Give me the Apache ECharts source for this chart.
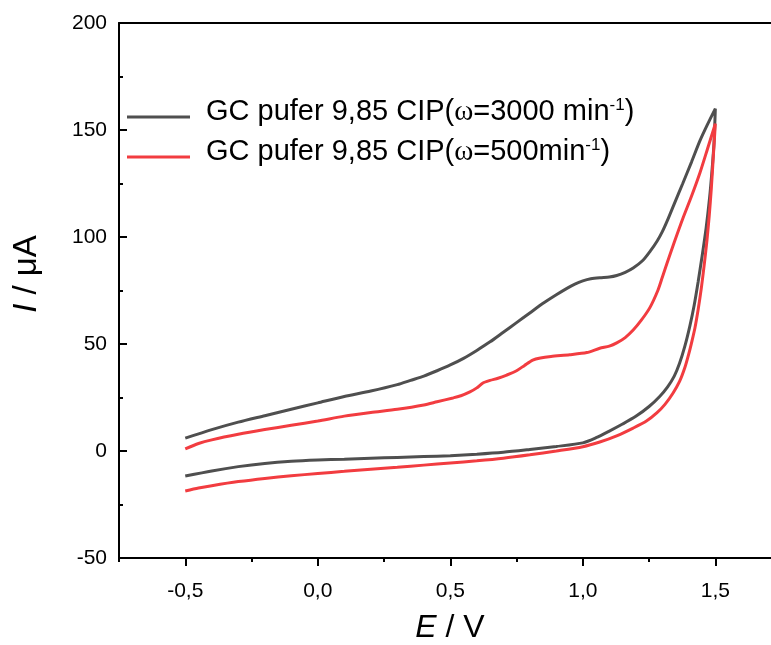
<!DOCTYPE html>
<html>
<head>
<meta charset="utf-8">
<script src="https://cdn.jsdelivr.net/npm/echarts@6/dist/echarts.min.js"></script>
<style>
html,body{margin:0;padding:0;background:#fff;}
#chart{width:771px;height:645px;}
</style>
</head>
<body>
<div id="chart"></div>
<script>
// ---- Data (E in V, I in µA) ----
const seriesNames = ['GC pufer 9,85 CIP(ω=3000 min-1)', 'GC pufer 9,85 CIP(ω=500min-1)'];

// 3000 min-1: forward (lower) branch then reverse (upper) branch
const e3000 = [-0.5,-0.4,-0.3,-0.2,-0.1,0,0.1,0.2,0.3,0.4,0.5,0.6,0.7,0.8,0.9,1.0,1.05,1.1,1.15,1.2,1.25,1.29,1.32,1.345,1.365,1.385,1.404,1.42,1.435,1.45,1.465,1.478,1.488,1.495,1.5,
  1.47,1.442,1.41,1.377,1.345,1.32,1.3,1.28,1.255,1.226,1.19,1.16,1.128,1.1,1.064,1.03,1.0,0.97,0.94,0.9,0.85,0.8,0.75,0.7,0.65,0.6,0.55,0.5,0.45,0.4,0.35,0.3,0.2,0.1,0,-0.1,-0.2,-0.3,-0.4,-0.5];
const i3000 = [-11.7,-9.3,-7.3,-5.8,-4.8,-4.2,-3.8,-3.4,-3.0,-2.6,-2.2,-1.5,-0.6,0.7,2.1,3.8,6.2,9.3,12.6,16.2,20.8,25.5,30,35,41,49,58.5,68,79,91,104,118,132,144,160,
  152.5,145,135,125,115.5,108,102.5,98,93.5,89,85.5,83.5,82,81.3,81,80.5,79.5,78,76,73,69,64.5,60,55.5,51,47,43.3,40.2,37.5,35,33,31,28,25.5,22.5,19.5,16.5,13.5,10,6];

// 500 min-1
const e500 = [-0.5,-0.45,-0.4,-0.3,-0.2,-0.1,0,0.1,0.2,0.3,0.4,0.5,0.6,0.7,0.8,0.9,1.0,1.064,1.13,1.19,1.24,1.279,1.31,1.34,1.365,1.385,1.4,1.412,1.423,1.435,1.447,1.458,1.468,1.477,1.485,1.492,1.5,
  1.47,1.442,1.41,1.377,1.345,1.317,1.3,1.283,1.253,1.22,1.19,1.16,1.128,1.1,1.064,1.015,0.95,0.88,0.84,0.811,0.78,0.75,0.713,0.68,0.65,0.623,0.6,0.574,0.54,0.51,0.45,0.4,0.3,0.2,0.1,0,-0.1,-0.2,-0.3,-0.4,-0.45,-0.5];
const i500 = [-18.7,-17.3,-16.2,-14.3,-12.8,-11.6,-10.5,-9.5,-8.5,-7.6,-6.6,-5.6,-4.6,-3.4,-1.8,0,2,4.2,7.2,10.7,14,17.8,21.8,27,32.5,39,45.5,51.5,57.5,66,76,87,98,110,123,137,153,
  141,130,119,108.5,97.5,87.5,81.2,75,67,61,56.5,53,50.5,49,48,46,45,44.2,43.5,42.5,40,37.5,35.5,34,33,31.8,29.5,27.6,25.8,24.8,23,21.5,19.5,18,16.3,14,12,10,7.8,5.2,3.5,1];

// Axis ticks
const xMajorTicks = [-0.5, 0, 0.5, 1.0, 1.5];
const xMinorTicks = [-0.75, -0.25, 0.25, 0.75, 1.25];
const yMinorTicks = [-25, 25, 75, 125, 175];

const pairs = (xs, ys) => xs.map((x, k) => [x, ys[k]]);
const FONT = 'Liberation Sans, Arial, sans-serif';
const X_MIN = -0.75, X_MAX = 1.71;

const chart = echarts.init(document.getElementById('chart'), null, {renderer: 'canvas'});
const option = {
  animation: false,
  backgroundColor: '#fff',
  color: ['#4f4f4f', '#f23c40'],
  grid: {left: 119, right: 0, top: 23, bottom: 87, show: false},
  xAxis: [{
    type: 'value', min: X_MIN, max: X_MAX,
    axisLine: {onZero: false, lineStyle: {color: '#000', width: 2}},
    axisTick: {customValues: xMajorTicks, length: 8, lineStyle: {color: '#000', width: 2}},
    axisLabel: {customValues: xMajorTicks, color: '#000', fontSize: 21, fontFamily: FONT, margin: 23,
      formatter: v => v.toFixed(1).replace('.', ',')},
    splitLine: {show: false}
  }, {
    type: 'value', min: X_MIN, max: X_MAX, position: 'bottom',
    axisLine: {show: false, onZero: false},
    axisTick: {customValues: xMinorTicks, length: 4, lineStyle: {color: '#000', width: 2}},
    axisLabel: {show: false},
    splitLine: {show: false}
  }, {
    type: 'value', min: X_MIN, max: X_MAX, position: 'top',
    axisLine: {show: true, onZero: false, lineStyle: {color: '#000', width: 2}},
    axisTick: {show: false},
    axisLabel: {show: false},
    splitLine: {show: false}
  }],
  yAxis: [{
    type: 'value', min: -50, max: 200, interval: 50,
    axisLine: {show: true, onZero: false, lineStyle: {color: '#000', width: 2}},
    axisTick: {show: true, inside: true, length: 8, lineStyle: {color: '#000', width: 2}},
    axisLabel: {color: '#000', fontSize: 21, fontFamily: FONT, margin: 12},
    splitLine: {show: false}
  }, {
    type: 'value', min: -50, max: 200, position: 'left',
    axisLine: {show: false, onZero: false},
    axisTick: {show: true, inside: true, customValues: yMinorTicks, length: 4, lineStyle: {color: '#000', width: 2}},
    axisLabel: {show: false},
    splitLine: {show: false}
  }],
  legend: {
    orient: 'vertical', left: 127, top: 97, padding: 0, itemGap: 0,
    itemWidth: 63, itemHeight: 3, icon: 'rect',
    data: seriesNames,
    formatter: name => name.replace('ω', '{w|ω}').replace('-1)', '{sup|-1})'),
    textStyle: {
      color: '#000', fontFamily: FONT, fontSize: 29, lineHeight: 30, padding: [0, 0, 10, 11],
      rich: {
        w: {fontFamily: 'Liberation Serif, serif', fontSize: 29, lineHeight: 30, color: '#000'},
        sup: {fontFamily: FONT, fontSize: 17, lineHeight: 17, verticalAlign: 'top', color: '#000'}
      }
    }
  },
  graphic: [
    {type: 'text', x: 450, y: 628, style: {text: '{i|E} / V', font: '32px ' + FONT, fill: '#000', align: 'center', verticalAlign: 'middle',
      rich: {i: {fontStyle: 'italic', fontSize: 32, fontFamily: FONT}}}},
    {type: 'text', x: 27, y: 274, rotation: Math.PI / 2, style: {text: '{i|I} / μA', font: '33px ' + FONT, fill: '#000', align: 'center', verticalAlign: 'middle',
      rich: {i: {fontStyle: 'italic', fontSize: 33, fontFamily: FONT}}}}
  ],
  series: [
    {name: seriesNames[0], type: 'line', data: pairs(e3000, i3000), showSymbol: false, symbol: 'none',
      smooth: 0.25, lineStyle: {width: 3}},
    {name: seriesNames[1], type: 'line', data: pairs(e500, i500), showSymbol: false, symbol: 'none',
      smooth: 0.25, lineStyle: {width: 3}}
  ]
};
chart.setOption(option);
</script>
</body>
</html>
